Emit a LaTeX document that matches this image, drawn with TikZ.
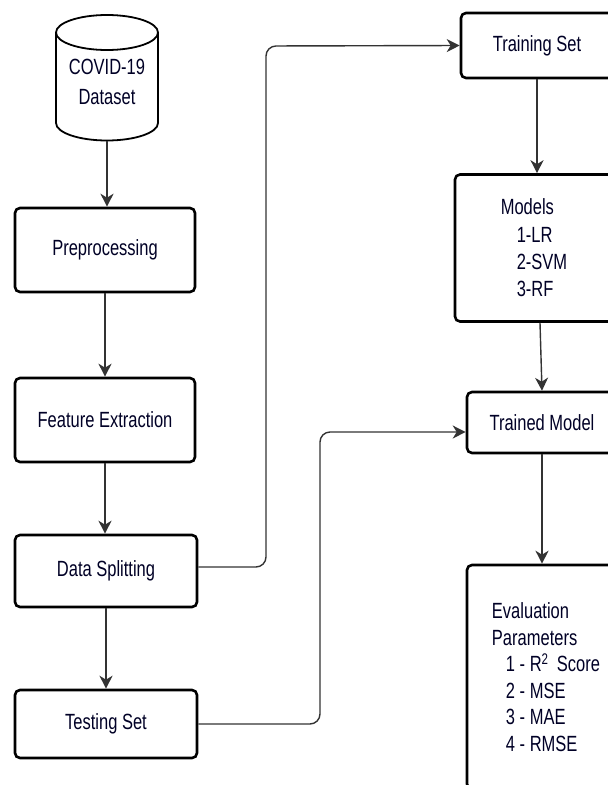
\documentclass[tikz,border=0pt]{standalone}
\usepackage{fontspec}
\setmainfont[FakeStretch=0.75]{Liberation Sans}
\usetikzlibrary{arrows.meta}
\begin{document}
\begin{tikzpicture}[x=1pt,y=-1pt,
  box/.style={draw=black, line width=2.6pt, rounded corners=5pt, fill=white,
    font=\fontsize{22}{26.5}\selectfont, inner sep=0pt, text=black!85!blue},
  conn/.style={draw=black!80, line width=1.4pt, rounded corners=10pt,
    -{Stealth[length=13pt,width=13pt,inset=4pt]}}]
\useasboundingbox (0,0) rectangle (608,785);
\clip (0,0) rectangle (608,785);
% left column: database cylinder
\draw[line width=1.8pt, fill=white] (56,32.5) -- (56,123)
  arc[start angle=180, end angle=0, x radius=51, y radius=17.5] -- (158,32.5);
\draw[line width=1.8pt] (107,32.5) ellipse[x radius=51, y radius=17.5];
\node[minimum width=102pt, minimum height=118pt, inner sep=0pt,
  font=\fontsize{22}{30}\selectfont, align=center, text=black!85!blue] (cyl) at (107,81.5)
  {COVID-19\\Dataset};
\node[box, minimum width=180pt, minimum height=84pt] (pre) at (105,250) {Preprocessing};
\node[box, minimum width=180pt, minimum height=84pt] (feat) at (105,420) {Feature Extraction};
\node[box, minimum width=182pt, minimum height=72pt] (split) at (106,571) {Data Splitting};
\node[box, minimum width=182pt, minimum height=68pt] (test) at (106,724) {Testing Set};
% right column
\node[box, minimum width=152pt, minimum height=65pt] (train) at (537,45.5) {Training Set};
\node[box, minimum width=164pt, minimum height=147pt, align=left,
  font=\fontsize{22}{27.3}\selectfont] (models) at (537,248)
  {Models\\\hspace*{16pt}1-LR\\\hspace*{16pt}2-SVM\rule{6pt}{0pt}\\\hspace*{16pt}3-RF};
\node[box, minimum width=150pt, minimum height=224pt, align=left] (eval) at (542,677)
  {\hspace*{8pt}Evaluation\\\hspace*{8pt}Parameters\\\hspace*{22pt}1 - R\textsuperscript{2}\, Score\\\hspace*{22pt}2 - MSE\\\hspace*{22pt}3 - MAE\\\hspace*{22pt}4 - RMSE};
\node[box, minimum width=150pt, minimum height=61pt] (trained) at (542,422.5) {Trained Model};
% connectors
\coordinate (c1) at (266,46);
\coordinate (c2) at (320,432);
\draw[conn] (cyl.south) -- (cyl.south |- pre.north);
\draw[conn] (pre.south) -- (feat.north);
\draw[conn] (feat.south) -- (feat.south |- split.north);
\draw[conn] (split.south) -- (test.north);
\draw[conn] ([yshift=4pt]split.east) -| (c1) -- (train.west);
\draw[conn] (test.east) -| (c2) -- (c2 -| trained.west);
\draw[conn] (train.south) -- (train.south |- models.north);
\draw[conn] ([xshift=3pt]models.south) -- (trained.north);
\draw[conn] (trained.south) -- (eval.north);
\end{tikzpicture}
\end{document}
